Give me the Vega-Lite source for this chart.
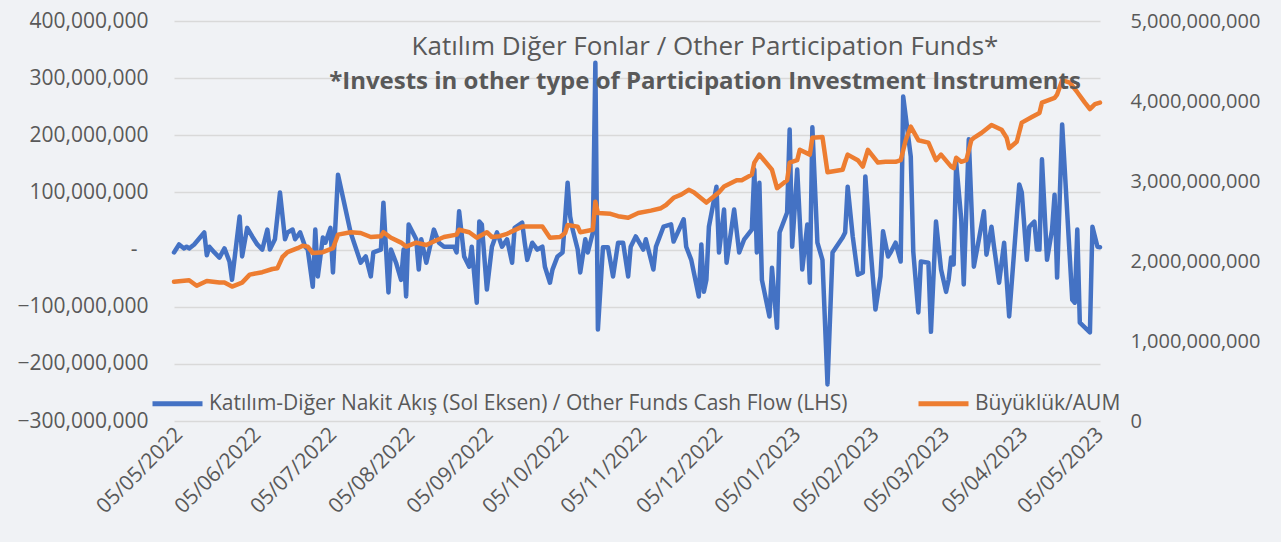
{
  "$schema": "https://vega.github.io/schema/vega-lite/v6.json",
  "width": 926,
  "height": 400,
  "autosize": {"type": "none"},
  "padding": {"left": 174, "top": 21, "right": 181, "bottom": 121},
  "background": "#f0f2f5",
  "config": {"font": "Open Sans", "view": {"stroke": null}},
  "title": {
    "text": "Katılım Diğer Fonlar / Other Participation Funds*",
    "subtitle": "*Invests in other type of Participation Investment Instruments",
    "anchor": "middle",
    "frame": "group",
    "dx": 68,
    "offset": -84,
    "font": "Open Sans",
    "fontSize": 26,
    "fontWeight": "normal",
    "color": "#595959",
    "subtitleFont": "Open Sans",
    "subtitleFontSize": 24,
    "subtitleFontWeight": "bold",
    "subtitleColor": "#595959",
    "subtitlePadding": 10
  },
  "datasets": {
    "flow": [
      {"date": "2022-05-03", "flow": -5000000},
      {"date": "2022-05-05", "flow": 9000000},
      {"date": "2022-05-07", "flow": 2000000},
      {"date": "2022-05-08", "flow": 5000000},
      {"date": "2022-05-09", "flow": 2000000},
      {"date": "2022-05-11", "flow": 9000000},
      {"date": "2022-05-15", "flow": 30000000},
      {"date": "2022-05-16", "flow": -10000000},
      {"date": "2022-05-17", "flow": 5000000},
      {"date": "2022-05-19", "flow": -5000000},
      {"date": "2022-05-21", "flow": -14000000},
      {"date": "2022-05-23", "flow": 2000000},
      {"date": "2022-05-25", "flow": -21000000},
      {"date": "2022-05-26", "flow": -53000000},
      {"date": "2022-05-29", "flow": 58000000},
      {"date": "2022-05-30", "flow": -12000000},
      {"date": "2022-06-01", "flow": 38000000},
      {"date": "2022-06-03", "flow": 23000000},
      {"date": "2022-06-05", "flow": 9000000},
      {"date": "2022-06-07", "flow": 0},
      {"date": "2022-06-09", "flow": 35000000},
      {"date": "2022-06-10", "flow": 0},
      {"date": "2022-06-12", "flow": 18000000},
      {"date": "2022-06-14", "flow": 100000000},
      {"date": "2022-06-16", "flow": 18000000},
      {"date": "2022-06-17", "flow": 30000000},
      {"date": "2022-06-19", "flow": 35000000},
      {"date": "2022-06-20", "flow": 18000000},
      {"date": "2022-06-22", "flow": 30000000},
      {"date": "2022-06-24", "flow": 5000000},
      {"date": "2022-06-25", "flow": 0},
      {"date": "2022-06-27", "flow": -65000000},
      {"date": "2022-06-28", "flow": 35000000},
      {"date": "2022-06-29", "flow": -47000000},
      {"date": "2022-07-01", "flow": 21000000},
      {"date": "2022-07-02", "flow": 12000000},
      {"date": "2022-07-04", "flow": 38000000},
      {"date": "2022-07-05", "flow": -40000000},
      {"date": "2022-07-07", "flow": 131000000},
      {"date": "2022-07-12", "flow": 30000000},
      {"date": "2022-07-16", "flow": -23000000},
      {"date": "2022-07-18", "flow": -12000000},
      {"date": "2022-07-20", "flow": -47000000},
      {"date": "2022-07-21", "flow": -5000000},
      {"date": "2022-07-24", "flow": 0},
      {"date": "2022-07-25", "flow": 82000000},
      {"date": "2022-07-27", "flow": -75000000},
      {"date": "2022-07-28", "flow": 0},
      {"date": "2022-07-30", "flow": -23000000},
      {"date": "2022-08-01", "flow": -53000000},
      {"date": "2022-08-02", "flow": 0},
      {"date": "2022-08-03", "flow": -82000000},
      {"date": "2022-08-04", "flow": 44000000},
      {"date": "2022-08-07", "flow": 18000000},
      {"date": "2022-08-08", "flow": -35000000},
      {"date": "2022-08-09", "flow": 18000000},
      {"date": "2022-08-11", "flow": -23000000},
      {"date": "2022-08-14", "flow": 35000000},
      {"date": "2022-08-16", "flow": 12000000},
      {"date": "2022-08-18", "flow": 5000000},
      {"date": "2022-08-22", "flow": 5000000},
      {"date": "2022-08-23", "flow": -5000000},
      {"date": "2022-08-24", "flow": 67000000},
      {"date": "2022-08-26", "flow": -12000000},
      {"date": "2022-08-28", "flow": -30000000},
      {"date": "2022-08-29", "flow": 5000000},
      {"date": "2022-08-31", "flow": -93000000},
      {"date": "2022-09-01", "flow": 49000000},
      {"date": "2022-09-02", "flow": 44000000},
      {"date": "2022-09-04", "flow": -70000000},
      {"date": "2022-09-06", "flow": 5000000},
      {"date": "2022-09-08", "flow": 30000000},
      {"date": "2022-09-09", "flow": 18000000},
      {"date": "2022-09-10", "flow": 5000000},
      {"date": "2022-09-12", "flow": 18000000},
      {"date": "2022-09-14", "flow": -23000000},
      {"date": "2022-09-15", "flow": 38000000},
      {"date": "2022-09-18", "flow": 47000000},
      {"date": "2022-09-19", "flow": 12000000},
      {"date": "2022-09-20", "flow": -18000000},
      {"date": "2022-09-22", "flow": 12000000},
      {"date": "2022-09-24", "flow": 0},
      {"date": "2022-09-26", "flow": 5000000},
      {"date": "2022-09-27", "flow": -30000000},
      {"date": "2022-09-29", "flow": -58000000},
      {"date": "2022-09-30", "flow": -35000000},
      {"date": "2022-10-02", "flow": -12000000},
      {"date": "2022-10-04", "flow": -5000000},
      {"date": "2022-10-05", "flow": 53000000},
      {"date": "2022-10-06", "flow": 117000000},
      {"date": "2022-10-07", "flow": 58000000},
      {"date": "2022-10-08", "flow": 35000000},
      {"date": "2022-10-10", "flow": 0},
      {"date": "2022-10-11", "flow": -40000000},
      {"date": "2022-10-13", "flow": 18000000},
      {"date": "2022-10-14", "flow": -5000000},
      {"date": "2022-10-16", "flow": 30000000},
      {"date": "2022-10-17", "flow": 327000000},
      {"date": "2022-10-18", "flow": -140000000},
      {"date": "2022-10-20", "flow": 4000000},
      {"date": "2022-10-22", "flow": 4000000},
      {"date": "2022-10-24", "flow": -47000000},
      {"date": "2022-10-26", "flow": 12000000},
      {"date": "2022-10-28", "flow": 12000000},
      {"date": "2022-10-30", "flow": -47000000},
      {"date": "2022-10-31", "flow": 5000000},
      {"date": "2022-11-02", "flow": 23000000},
      {"date": "2022-11-05", "flow": 0},
      {"date": "2022-11-06", "flow": 18000000},
      {"date": "2022-11-09", "flow": -35000000},
      {"date": "2022-11-10", "flow": 5000000},
      {"date": "2022-11-13", "flow": 40000000},
      {"date": "2022-11-16", "flow": 44000000},
      {"date": "2022-11-17", "flow": 14000000},
      {"date": "2022-11-21", "flow": 53000000},
      {"date": "2022-11-22", "flow": 5000000},
      {"date": "2022-11-24", "flow": -18000000},
      {"date": "2022-11-27", "flow": -82000000},
      {"date": "2022-11-28", "flow": 9000000},
      {"date": "2022-11-29", "flow": -74000000},
      {"date": "2022-11-30", "flow": -53000000},
      {"date": "2022-12-01", "flow": 40000000},
      {"date": "2022-12-04", "flow": 110000000},
      {"date": "2022-12-05", "flow": -5000000},
      {"date": "2022-12-07", "flow": 70000000},
      {"date": "2022-12-08", "flow": -23000000},
      {"date": "2022-12-11", "flow": 70000000},
      {"date": "2022-12-13", "flow": -5000000},
      {"date": "2022-12-15", "flow": 18000000},
      {"date": "2022-12-18", "flow": 35000000},
      {"date": "2022-12-19", "flow": 140000000},
      {"date": "2022-12-20", "flow": -5000000},
      {"date": "2022-12-21", "flow": 117000000},
      {"date": "2022-12-22", "flow": -53000000},
      {"date": "2022-12-25", "flow": -117000000},
      {"date": "2022-12-26", "flow": -32000000},
      {"date": "2022-12-28", "flow": -137000000},
      {"date": "2022-12-29", "flow": 30000000},
      {"date": "2023-01-01", "flow": 65000000},
      {"date": "2023-01-02", "flow": 210000000},
      {"date": "2023-01-03", "flow": 5000000},
      {"date": "2023-01-05", "flow": 140000000},
      {"date": "2023-01-07", "flow": -35000000},
      {"date": "2023-01-09", "flow": 44000000},
      {"date": "2023-01-10", "flow": -58000000},
      {"date": "2023-01-11", "flow": 214000000},
      {"date": "2023-01-13", "flow": 12000000},
      {"date": "2023-01-15", "flow": -18000000},
      {"date": "2023-01-17", "flow": -236000000},
      {"date": "2023-01-19", "flow": -5000000},
      {"date": "2023-01-23", "flow": 21000000},
      {"date": "2023-01-24", "flow": 30000000},
      {"date": "2023-01-25", "flow": 110000000},
      {"date": "2023-01-27", "flow": 23000000},
      {"date": "2023-01-29", "flow": -44000000},
      {"date": "2023-01-31", "flow": -40000000},
      {"date": "2023-02-01", "flow": 128000000},
      {"date": "2023-02-03", "flow": 5000000},
      {"date": "2023-02-05", "flow": -105000000},
      {"date": "2023-02-07", "flow": -47000000},
      {"date": "2023-02-08", "flow": 32000000},
      {"date": "2023-02-10", "flow": -12000000},
      {"date": "2023-02-11", "flow": -5000000},
      {"date": "2023-02-13", "flow": 12000000},
      {"date": "2023-02-15", "flow": -21000000},
      {"date": "2023-02-16", "flow": 268000000},
      {"date": "2023-02-19", "flow": 163000000},
      {"date": "2023-02-20", "flow": -4000000},
      {"date": "2023-02-22", "flow": -110000000},
      {"date": "2023-02-23", "flow": -21000000},
      {"date": "2023-02-26", "flow": -23000000},
      {"date": "2023-02-27", "flow": -144000000},
      {"date": "2023-03-01", "flow": 49000000},
      {"date": "2023-03-03", "flow": -35000000},
      {"date": "2023-03-05", "flow": -74000000},
      {"date": "2023-03-06", "flow": -53000000},
      {"date": "2023-03-07", "flow": -14000000},
      {"date": "2023-03-08", "flow": -26000000},
      {"date": "2023-03-09", "flow": 152000000},
      {"date": "2023-03-11", "flow": 53000000},
      {"date": "2023-03-12", "flow": -61000000},
      {"date": "2023-03-14", "flow": 193000000},
      {"date": "2023-03-16", "flow": -30000000},
      {"date": "2023-03-18", "flow": 18000000},
      {"date": "2023-03-20", "flow": 67000000},
      {"date": "2023-03-21", "flow": -9000000},
      {"date": "2023-03-23", "flow": 40000000},
      {"date": "2023-03-24", "flow": 5000000},
      {"date": "2023-03-26", "flow": -58000000},
      {"date": "2023-03-28", "flow": 12000000},
      {"date": "2023-03-30", "flow": -117000000},
      {"date": "2023-04-03", "flow": 114000000},
      {"date": "2023-04-04", "flow": 100000000},
      {"date": "2023-04-06", "flow": -18000000},
      {"date": "2023-04-07", "flow": 40000000},
      {"date": "2023-04-09", "flow": 49000000},
      {"date": "2023-04-10", "flow": 0},
      {"date": "2023-04-11", "flow": 0},
      {"date": "2023-04-12", "flow": 158000000},
      {"date": "2023-04-14", "flow": -18000000},
      {"date": "2023-04-16", "flow": 35000000},
      {"date": "2023-04-17", "flow": 96000000},
      {"date": "2023-04-18", "flow": -49000000},
      {"date": "2023-04-20", "flow": 219000000},
      {"date": "2023-04-24", "flow": -88000000},
      {"date": "2023-04-25", "flow": -93000000},
      {"date": "2023-04-26", "flow": 35000000},
      {"date": "2023-04-27", "flow": -128000000},
      {"date": "2023-05-01", "flow": -145000000},
      {"date": "2023-05-02", "flow": 40000000},
      {"date": "2023-05-04", "flow": 5000000},
      {"date": "2023-05-05", "flow": 4000000}
    ],
    "aum": [
      {"date": "2022-05-03", "aum": 1740000000},
      {"date": "2022-05-09", "aum": 1760000000},
      {"date": "2022-05-12", "aum": 1690000000},
      {"date": "2022-05-16", "aum": 1750000000},
      {"date": "2022-05-21", "aum": 1730000000},
      {"date": "2022-05-23", "aum": 1730000000},
      {"date": "2022-05-26", "aum": 1680000000},
      {"date": "2022-05-30", "aum": 1730000000},
      {"date": "2022-06-02", "aum": 1830000000},
      {"date": "2022-06-07", "aum": 1860000000},
      {"date": "2022-06-11", "aum": 1900000000},
      {"date": "2022-06-13", "aum": 1910000000},
      {"date": "2022-06-15", "aum": 2050000000},
      {"date": "2022-06-17", "aum": 2110000000},
      {"date": "2022-06-21", "aum": 2160000000},
      {"date": "2022-06-23", "aum": 2190000000},
      {"date": "2022-06-25", "aum": 2180000000},
      {"date": "2022-06-27", "aum": 2100000000},
      {"date": "2022-07-01", "aum": 2110000000},
      {"date": "2022-07-05", "aum": 2160000000},
      {"date": "2022-07-07", "aum": 2330000000},
      {"date": "2022-07-12", "aum": 2360000000},
      {"date": "2022-07-16", "aum": 2350000000},
      {"date": "2022-07-20", "aum": 2300000000},
      {"date": "2022-07-24", "aum": 2310000000},
      {"date": "2022-07-25", "aum": 2360000000},
      {"date": "2022-07-28", "aum": 2290000000},
      {"date": "2022-08-01", "aum": 2230000000},
      {"date": "2022-08-03", "aum": 2180000000},
      {"date": "2022-08-07", "aum": 2230000000},
      {"date": "2022-08-11", "aum": 2200000000},
      {"date": "2022-08-15", "aum": 2260000000},
      {"date": "2022-08-18", "aum": 2300000000},
      {"date": "2022-08-23", "aum": 2330000000},
      {"date": "2022-08-24", "aum": 2390000000},
      {"date": "2022-08-28", "aum": 2360000000},
      {"date": "2022-08-31", "aum": 2290000000},
      {"date": "2022-09-04", "aum": 2360000000},
      {"date": "2022-09-06", "aum": 2300000000},
      {"date": "2022-09-09", "aum": 2310000000},
      {"date": "2022-09-12", "aum": 2340000000},
      {"date": "2022-09-18", "aum": 2430000000},
      {"date": "2022-09-26", "aum": 2430000000},
      {"date": "2022-09-29", "aum": 2290000000},
      {"date": "2022-10-03", "aum": 2300000000},
      {"date": "2022-10-05", "aum": 2350000000},
      {"date": "2022-10-06", "aum": 2450000000},
      {"date": "2022-10-10", "aum": 2430000000},
      {"date": "2022-10-11", "aum": 2360000000},
      {"date": "2022-10-16", "aum": 2390000000},
      {"date": "2022-10-17", "aum": 2740000000},
      {"date": "2022-10-18", "aum": 2600000000},
      {"date": "2022-10-23", "aum": 2590000000},
      {"date": "2022-10-26", "aum": 2560000000},
      {"date": "2022-10-30", "aum": 2540000000},
      {"date": "2022-11-03", "aum": 2600000000},
      {"date": "2022-11-08", "aum": 2630000000},
      {"date": "2022-11-12", "aum": 2660000000},
      {"date": "2022-11-14", "aum": 2700000000},
      {"date": "2022-11-17", "aum": 2790000000},
      {"date": "2022-11-20", "aum": 2830000000},
      {"date": "2022-11-23", "aum": 2890000000},
      {"date": "2022-11-25", "aum": 2860000000},
      {"date": "2022-11-30", "aum": 2730000000},
      {"date": "2022-12-05", "aum": 2860000000},
      {"date": "2022-12-07", "aum": 2930000000},
      {"date": "2022-12-12", "aum": 3010000000},
      {"date": "2022-12-14", "aum": 3010000000},
      {"date": "2022-12-18", "aum": 3080000000},
      {"date": "2022-12-19", "aum": 3230000000},
      {"date": "2022-12-21", "aum": 3330000000},
      {"date": "2022-12-26", "aum": 3140000000},
      {"date": "2022-12-28", "aum": 2910000000},
      {"date": "2023-01-01", "aum": 3010000000},
      {"date": "2023-01-02", "aum": 3230000000},
      {"date": "2023-01-05", "aum": 3260000000},
      {"date": "2023-01-06", "aum": 3390000000},
      {"date": "2023-01-10", "aum": 3330000000},
      {"date": "2023-01-11", "aum": 3540000000},
      {"date": "2023-01-15", "aum": 3550000000},
      {"date": "2023-01-17", "aum": 3110000000},
      {"date": "2023-01-23", "aum": 3140000000},
      {"date": "2023-01-24", "aum": 3240000000},
      {"date": "2023-01-25", "aum": 3330000000},
      {"date": "2023-01-29", "aum": 3260000000},
      {"date": "2023-01-31", "aum": 3180000000},
      {"date": "2023-02-02", "aum": 3390000000},
      {"date": "2023-02-06", "aum": 3230000000},
      {"date": "2023-02-09", "aum": 3240000000},
      {"date": "2023-02-13", "aum": 3240000000},
      {"date": "2023-02-15", "aum": 3260000000},
      {"date": "2023-02-17", "aum": 3510000000},
      {"date": "2023-02-19", "aum": 3680000000},
      {"date": "2023-02-22", "aum": 3510000000},
      {"date": "2023-02-26", "aum": 3480000000},
      {"date": "2023-03-01", "aum": 3260000000},
      {"date": "2023-03-03", "aum": 3330000000},
      {"date": "2023-03-07", "aum": 3180000000},
      {"date": "2023-03-08", "aum": 3160000000},
      {"date": "2023-03-09", "aum": 3290000000},
      {"date": "2023-03-11", "aum": 3240000000},
      {"date": "2023-03-13", "aum": 3260000000},
      {"date": "2023-03-15", "aum": 3510000000},
      {"date": "2023-03-16", "aum": 3540000000},
      {"date": "2023-03-19", "aum": 3600000000},
      {"date": "2023-03-23", "aum": 3700000000},
      {"date": "2023-03-27", "aum": 3640000000},
      {"date": "2023-03-29", "aum": 3540000000},
      {"date": "2023-03-30", "aum": 3410000000},
      {"date": "2023-04-02", "aum": 3490000000},
      {"date": "2023-04-04", "aum": 3730000000},
      {"date": "2023-04-08", "aum": 3800000000},
      {"date": "2023-04-11", "aum": 3850000000},
      {"date": "2023-04-12", "aum": 3980000000},
      {"date": "2023-04-17", "aum": 4040000000},
      {"date": "2023-04-18", "aum": 4080000000},
      {"date": "2023-04-20", "aum": 4260000000},
      {"date": "2023-04-23", "aum": 4230000000},
      {"date": "2023-04-26", "aum": 4110000000},
      {"date": "2023-04-29", "aum": 3980000000},
      {"date": "2023-05-01", "aum": 3900000000},
      {"date": "2023-05-03", "aum": 3960000000},
      {"date": "2023-05-05", "aum": 3980000000}
    ]
  },
  "layer": [
    {
      "data": {"name": "flow"},
      "mark": {"type": "line", "strokeWidth": 4.5, "strokeJoin": "round", "strokeCap": "round"},
      "encoding": {
        "x": {
          "field": "date",
          "type": "temporal",
          "scale": {"domain": [{"year": 2022, "month": 5, "date": 3, "utc": true}, {"year": 2023, "month": 5, "date": 5, "utc": true}]},
          "axis": {
            "title": null,
            "values": [
              {"year": 2022, "month": 5, "date": 5, "utc": true},
              {"year": 2022, "month": 6, "date": 5, "utc": true},
              {"year": 2022, "month": 7, "date": 5, "utc": true},
              {"year": 2022, "month": 8, "date": 5, "utc": true},
              {"year": 2022, "month": 9, "date": 5, "utc": true},
              {"year": 2022, "month": 10, "date": 5, "utc": true},
              {"year": 2022, "month": 11, "date": 5, "utc": true},
              {"year": 2022, "month": 12, "date": 5, "utc": true},
              {"year": 2023, "month": 1, "date": 5, "utc": true},
              {"year": 2023, "month": 2, "date": 5, "utc": true},
              {"year": 2023, "month": 3, "date": 5, "utc": true},
              {"year": 2023, "month": 4, "date": 5, "utc": true},
              {"year": 2023, "month": 5, "date": 5, "utc": true}
            ],
            "labelExpr": "utcFormat(datum.value, '%d/%m/%Y')",
            "labelAngle": -45,
            "labelAlign": "right",
            "labelBaseline": "middle",
            "labelFontSize": 21,
            "labelColor": "#595959",
            "labelPadding": 10,
            "ticks": false,
            "domain": false,
            "grid": false,
            "labelOverlap": false
          }
        },
        "y": {
          "field": "flow",
          "type": "quantitative",
          "scale": {"domain": [-300000000, 400000000], "nice": false, "zero": false},
          "axis": {
            "orient": "left",
            "title": null,
            "values": [-300000000, -200000000, -100000000, 0, 100000000, 200000000, 300000000, 400000000],
            "labelExpr": "datum.value == 0 ? '-' : format(datum.value, ',.0f')",
            "labelFontSize": 21,
            "labelColor": "#595959",
            "labelPadding": {"condition": {"test": "datum.value == 0", "value": 37}, "value": 26},
            "ticks": false,
            "domain": false,
            "grid": true,
            "gridColor": "#d9d9d9",
            "gridWidth": 1.5,
            "labelOverlap": false
          }
        },
        "color": {
          "datum": "Katılım-Diğer Nakit Akış (Sol Eksen) / Other Funds Cash Flow (LHS)",
          "type": "nominal",
          "scale": {
            "domain": ["Katılım-Diğer Nakit Akış (Sol Eksen) / Other Funds Cash Flow (LHS)", "Büyüklük/AUM"],
            "range": ["#4472C4", "#ED7D31"]
          },
          "legend": {
            "orient": "none",
            "legendX": -24,
            "legendY": 355,
            "direction": "horizontal",
            "title": null,
            "symbolType": "stroke",
            "symbolStrokeWidth": 5,
            "symbolSize": 2500,
            "labelFontSize": 21,
            "labelColor": "#595959",
            "labelLimit": 1000,
            "labelOffset": 4,
            "columnPadding": 60
          }
        }
      }
    },
    {
      "data": {"name": "aum"},
      "mark": {"type": "line", "strokeWidth": 4.5, "strokeJoin": "round", "strokeCap": "round"},
      "encoding": {
        "x": {"field": "date", "type": "temporal"},
        "y": {
          "field": "aum",
          "type": "quantitative",
          "scale": {"domain": [0, 5000000000], "nice": false},
          "axis": {
            "orient": "right",
            "title": null,
            "values": [0, 1000000000, 2000000000, 3000000000, 4000000000, 5000000000],
            "format": ",.0f",
            "labelFontSize": 20,
            "labelColor": "#595959",
            "labelPadding": 30,
            "ticks": false,
            "domain": false,
            "grid": false,
            "labelOverlap": false
          }
        },
        "color": {"datum": "Büyüklük/AUM", "type": "nominal"}
      }
    }
  ],
  "resolve": {"scale": {"y": "independent"}}
}
